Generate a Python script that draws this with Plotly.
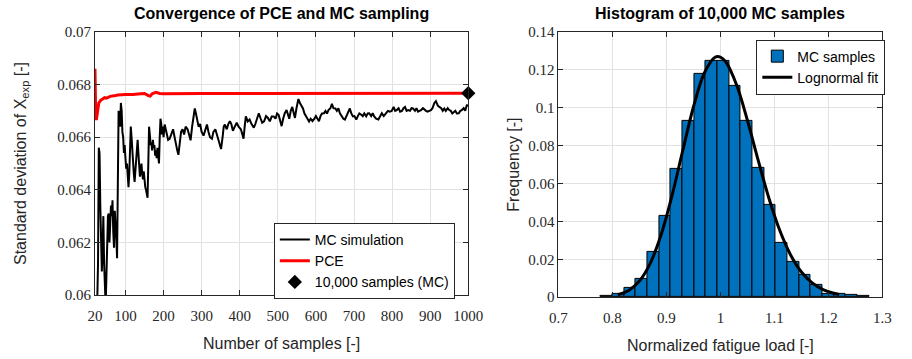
import plotly.graph_objects as go

# ---------------- Left panel data ----------------
mc_n = [20, 23, 26, 28, 30, 32, 34, 36, 38, 40, 42, 44, 46, 48, 50, 52, 54, 56, 58, 60,
        62, 64, 66, 68, 70, 72, 74, 76, 78, 80, 82, 84, 86, 88, 90, 92, 94, 96, 98, 100,
        102, 104, 106, 108, 110, 112, 114, 116, 118, 120, 122, 124, 126, 128, 130, 132, 134, 136, 138, 140,
        142, 144, 146, 148, 150, 152, 154, 156, 158, 160, 162, 164, 166, 168, 170, 172, 174, 176, 178, 180,
        182, 184, 186, 188, 190, 192, 194, 196, 198, 200,
        203, 208, 212, 216, 220, 225, 229, 233, 236, 239, 243, 246, 250, 254, 258, 263, 267, 271, 275, 278,
        282, 285, 288, 292, 296, 300, 305, 310, 314, 318, 322, 327, 331, 336, 340, 344, 348, 351, 355, 358,
        361, 366, 370, 374, 378, 382, 387, 392, 397, 403, 407, 410, 413, 416, 421, 426, 431, 437, 441, 446,
        450, 455, 459, 464, 469, 474, 479, 484,
        489, 494, 498, 502, 506, 510, 514, 518, 523, 527, 530, 534, 538, 542, 545, 549, 554, 558, 562, 566,
        570, 574, 578, 582, 586, 591, 596, 600, 604, 608, 612, 616, 621, 625, 629, 633, 638, 642, 646, 651,
        655, 659, 663, 668, 672, 676, 680, 685, 689, 693, 697, 701, 706, 710, 714, 719, 723, 727, 732, 736,
        740, 745, 749,
        753, 758, 764, 768, 773, 778, 785, 789, 794, 799, 804, 808, 812, 817, 821, 826, 830, 834, 838, 842,
        847, 851, 855, 860, 864, 868, 872, 876, 881, 885, 889, 893, 898, 902, 906, 911, 915, 920, 924, 929,
        933, 937, 941, 946, 950, 954, 958, 962, 966, 970, 975, 979, 983, 988, 992, 996, 1000]

mc_std = [0.0592, 0.0594, 0.0598, 0.0612, 0.0656, 0.0654, 0.0634, 0.0612, 0.0609, 0.0618, 0.0630, 0.0612, 0.0598, 0.0596, 0.0607, 0.0622, 0.0630, 0.0631, 0.0620, 0.0627,
          0.0634, 0.0630, 0.0636, 0.0624, 0.0618, 0.0632, 0.0628, 0.0622, 0.0614, 0.0662, 0.0670, 0.0666, 0.0664, 0.0673, 0.0670, 0.0662, 0.0660, 0.0654, 0.0657, 0.0652,
          0.0648, 0.0650, 0.0644, 0.0641, 0.0646, 0.0658, 0.0664, 0.0660, 0.0654, 0.0650, 0.0646, 0.0643, 0.0648, 0.0652, 0.0656, 0.0659, 0.0654, 0.0650, 0.0645, 0.0647,
          0.0650, 0.0646, 0.0644, 0.0647, 0.0643, 0.0641, 0.0640, 0.0638, 0.0637, 0.0650, 0.0664, 0.0661, 0.0657, 0.0658, 0.0655, 0.0659, 0.0656, 0.0657, 0.0653, 0.0655,
          0.0652, 0.0656, 0.0651, 0.0650, 0.0660, 0.0667, 0.0665, 0.0661, 0.0664, 0.0660,
          0.06648, 0.0662, 0.0659, 0.06594, 0.0661, 0.0663, 0.0660, 0.0656, 0.0655, 0.06533, 0.0658, 0.0662, 0.0663, 0.0661, 0.0664, 0.0663, 0.0661, 0.06588, 0.0664, 0.0668,
          0.06709, 0.0669, 0.06661, 0.0664, 0.0665, 0.0662, 0.06606, 0.0663, 0.06648, 0.0662, 0.0660, 0.06594, 0.0662, 0.0663, 0.0661, 0.0659, 0.0657, 0.06555, 0.0660, 0.0664,
          0.06648, 0.0663, 0.0665, 0.06661, 0.0665, 0.06624, 0.0664, 0.06655, 0.0664, 0.0663, 0.0661, 0.06594, 0.0664, 0.06679, 0.0666, 0.06667, 0.0665, 0.06636, 0.0665, 0.0667,
          0.06691, 0.0667, 0.06655, 0.0666, 0.0668, 0.06673, 0.0666, 0.06679,
          0.06679, 0.0667, 0.0669, 0.06685, 0.0666, 0.06642, 0.0667, 0.0669, 0.06703, 0.0668, 0.0667, 0.0670, 0.06715, 0.0669, 0.06673, 0.0671, 0.06745, 0.0673, 0.0672, 0.06709,
          0.0669, 0.0668, 0.06673, 0.0666, 0.0667, 0.06661, 0.0667, 0.0668, 0.0667, 0.06661, 0.0668, 0.0669, 0.06691, 0.0670, 0.0669, 0.06703, 0.0671, 0.06727, 0.0671, 0.06709,
          0.0670, 0.0671, 0.06691, 0.0668, 0.0667, 0.06667, 0.0668, 0.0670, 0.06709, 0.0669, 0.06679, 0.0668, 0.06667, 0.0668, 0.0669, 0.06685, 0.0668, 0.0669, 0.06679, 0.0669,
          0.06691, 0.0668, 0.06691,
          0.06679, 0.0667, 0.06667, 0.0668, 0.06691, 0.0668, 0.06691, 0.0670, 0.06697, 0.0670, 0.06715, 0.0670, 0.06703, 0.0671, 0.06697, 0.0670, 0.0671, 0.06715, 0.0670, 0.06703,
          0.0670, 0.0671, 0.06709, 0.0670, 0.0671, 0.06697, 0.0670, 0.06703, 0.0671, 0.06703, 0.0670, 0.06697, 0.0670, 0.06703, 0.0671, 0.0673, 0.06737, 0.0672, 0.06715, 0.0671,
          0.0670, 0.06709, 0.0670, 0.0671, 0.06703, 0.0670, 0.0669, 0.06697, 0.0670, 0.0669, 0.06691, 0.0670, 0.06703, 0.0671, 0.0670, 0.06721, 0.0672]

pce_n = [20, 21, 22, 24, 26, 28, 30, 35, 40, 45, 50, 55, 60, 70, 80, 100, 120, 140, 150, 160,
         165, 170, 180, 190, 200, 300, 500, 700, 1000]
pce_std = [0.0686, 0.0676, 0.0667, 0.0667, 0.0670, 0.0672, 0.0673, 0.0674, 0.06745, 0.0675, 0.06748, 0.06752, 0.06755, 0.06757, 0.0676, 0.06762, 0.06762, 0.06765, 0.06766, 0.06758,
           0.06756, 0.06765, 0.0677, 0.06766, 0.06765, 0.06766, 0.06766, 0.06767, 0.06767]

mc_final_n = [1000]
mc_final_std = [0.06767]

left_xticks = [20, 100, 200, 300, 400, 500, 600, 700, 800, 900, 1000]
left_yticks = [0.06, 0.062, 0.064, 0.066, 0.068, 0.07]
left_yticktext = ["0.06", "0.062", "0.064", "0.066", "0.068", "0.07"]

# ---------------- Right panel data ----------------
bin_edges = [0.7784, 0.8000, 0.8216, 0.8432, 0.8648, 0.8864, 0.9080, 0.9296, 0.9512, 0.9728, 0.9944, 1.0160,
             1.0376, 1.0592, 1.0808, 1.1024, 1.1240, 1.1456, 1.1672, 1.1888, 1.2104, 1.2320, 1.2536, 1.2752]
freq = [0.0005, 0.0019, 0.0047, 0.0098, 0.0238, 0.0427, 0.0677, 0.0930, 0.1178, 0.1249, 0.1249, 0.1116,
        0.0930, 0.0682, 0.0486, 0.0289, 0.0186, 0.0120, 0.0064, 0.0019, 0.0015, 0.0010, 0.0007]

fit_x = [0.81, 0.83, 0.85, 0.87, 0.89, 0.91, 0.93, 0.95, 0.97, 0.99, 1.00, 1.01, 1.03, 1.05, 1.07,
         1.09, 1.11, 1.13, 1.15, 1.17, 1.19, 1.21, 1.22]
fit_y = [0.00129, 0.00358, 0.00857, 0.01789, 0.03279, 0.05323, 0.07710, 0.10036, 0.11817, 0.12661, 0.12672,
         0.12413, 0.11194, 0.09330, 0.07219, 0.05208, 0.03516, 0.02230, 0.01333, 0.00754, 0.00404, 0.00206, 0.00145]

right_xticks = [0.7, 0.8, 0.9, 1.0, 1.1, 1.2, 1.3]
right_xticktext = ["0.7", "0.8", "0.9", "1", "1.1", "1.2", "1.3"]
right_yticks = [0, 0.02, 0.04, 0.06, 0.08, 0.1, 0.12, 0.14]
right_yticktext = ["0", "0.02", "0.04", "0.06", "0.08", "0.1", "0.12", "0.14"]

bin_centers = [(bin_edges[i] + bin_edges[i + 1]) / 2 for i in range(len(freq))]
bin_widths = [bin_edges[i + 1] - bin_edges[i] for i in range(len(freq))]

# ---------------- Figure ----------------
W, H = 912, 359
fig = go.Figure()

fig.add_trace(go.Scatter(x=mc_n, y=mc_std, mode="lines", name="MC simulation",
                         line=dict(color="black", width=2), xaxis="x", yaxis="y", legend="legend"))
fig.add_trace(go.Scatter(x=pce_n, y=pce_std, mode="lines", name="PCE",
                         line=dict(color="#ff0000", width=3), xaxis="x", yaxis="y", legend="legend"))
fig.add_trace(go.Scatter(x=mc_final_n, y=mc_final_std, mode="markers", name="10,000 samples (MC)",
                         marker=dict(symbol="diamond", color="black", size=11),
                         cliponaxis=False, xaxis="x", yaxis="y", legend="legend"))

fig.add_trace(go.Bar(x=bin_centers, y=freq, width=bin_widths, name="MC samples",
                     marker=dict(color="#0072BD", line=dict(color="black", width=1)),
                     xaxis="x2", yaxis="y2", legend="legend2"))
fig.add_trace(go.Scatter(x=fit_x, y=fit_y, mode="lines", name="Lognormal fit", line_shape="spline",
                         line=dict(color="black", width=3), xaxis="x2", yaxis="y2", legend="legend2"))

tickfont = dict(family="Liberation Serif, Times New Roman, serif", size=15, color="#262626")
titlefont = dict(family="Liberation Sans, Arial, sans-serif", size=16, color="#262626")
axis_common = dict(showline=True, linecolor="#262626", linewidth=1, mirror="allticks",
                   ticks="inside", ticklen=5, tickcolor="#262626", showgrid=True,
                   gridcolor="#e2e2e2", gridwidth=1, zeroline=False, tickfont=tickfont)

fig.update_layout(
    width=W, height=H,
    margin=dict(l=0, r=0, t=0, b=0),
    paper_bgcolor="white", plot_bgcolor="white",
    bargap=0,
    xaxis=dict(domain=[88.3 / W, 471.7 / W], range=[20, 1000], tickvals=left_xticks,
               ticklabelstandoff=7,
               title=dict(text="Number of samples [-]", font=titlefont, standoff=14),
               anchor="y", **axis_common),
    yaxis=dict(domain=[1 - 300.5 / H, 1 - 25 / H], range=[0.06, 0.07], tickvals=left_yticks,
               ticktext=left_yticktext,
               title=dict(text="Standard deviation of X<sub>exp</sub> [-]", font=titlefont, standoff=26),
               anchor="x", **axis_common),
    xaxis2=dict(domain=[564.3 / W, 897 / W], range=[0.7, 1.3], tickvals=right_xticks,
                ticktext=right_xticktext, ticklabelstandoff=7,
                title=dict(text="Normalized fatigue load [-]", font=titlefont, standoff=14),
                anchor="y2", **axis_common),
    yaxis2=dict(domain=[1 - 302.7 / H, 1 - 25 / H], range=[0, 0.14], tickvals=right_yticks,
                ticktext=right_yticktext,
                title=dict(text="Frequency [-]", font=titlefont, standoff=4),
                anchor="x2", **axis_common),
    legend=dict(x=272 / W, y=1 - 225 / H, xanchor="left", yanchor="top",
                bgcolor="white", bordercolor="#262626", borderwidth=1,
                font=dict(family="Liberation Sans, Arial, sans-serif", size=14, color="black"),
                tracegroupgap=0),
    legend2=dict(x=900 / W, y=1 - 33 / H, xanchor="right", yanchor="top",
                 bgcolor="white", bordercolor="#262626", borderwidth=1,
                 font=dict(family="Liberation Sans, Arial, sans-serif", size=14, color="black"),
                 tracegroupgap=0),
    annotations=[
        dict(text="<b>Convergence of PCE and MC sampling</b>", x=(88.3 + 471.7) / 2 / W, y=1 - 6 / H,
             xref="paper", yref="paper", showarrow=False, xanchor="center", yanchor="middle",
             font=dict(family="Liberation Sans, Arial, sans-serif", size=16, color="black")),
        dict(text="<b>Histogram of 10,000 MC samples</b>", x=(564.3 + 897) / 2 / W, y=1 - 6 / H,
             xref="paper", yref="paper", showarrow=False, xanchor="center", yanchor="middle",
             font=dict(family="Liberation Sans, Arial, sans-serif", size=16, color="black")),
    ],
)

fig.write_html("out.html")
